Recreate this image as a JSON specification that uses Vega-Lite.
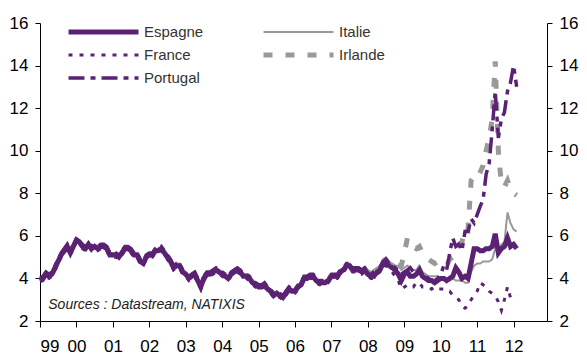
{
  "$schema": "https://vega.github.io/schema/vega-lite/v6.json",
  "autosize": "none",
  "width": 507,
  "height": 298,
  "padding": {"left": 40, "top": 23, "right": 40, "bottom": 42},
  "background": "white",
  "config": {
    "view": {"stroke": null},
    "font": "Liberation Sans",
    "axis": {"grid": false, "domainColor": "#000", "tickColor": "#000", "labelColor": "#000", "labelFont": "Liberation Sans", "labelFontSize": 17, "domainWidth": 1, "tickWidth": 1}
  },
  "datasets": {
    "rates": [
      {"d": "1999-01-01", "es": 3.9, "fr": 3.85, "pt": 4.0, "it": 4.0, "ie": 3.9},
      {"d": "1999-02-01", "es": 4.0, "fr": 3.9, "pt": 4.1, "it": 4.1, "ie": 4.0},
      {"d": "1999-03-01", "es": 4.2, "fr": 4.1, "pt": 4.3, "it": 4.3, "ie": 4.2},
      {"d": "1999-04-01", "es": 4.1, "fr": 4.0, "pt": 4.2, "it": 4.2, "ie": 4.0},
      {"d": "1999-05-01", "es": 4.2, "fr": 4.1, "pt": 4.3, "it": 4.3, "ie": 4.2},
      {"d": "1999-06-01", "es": 4.5, "fr": 4.4, "pt": 4.6, "it": 4.6, "ie": 4.5},
      {"d": "1999-07-01", "es": 4.8, "fr": 4.7, "pt": 4.9, "it": 4.9, "ie": 4.8},
      {"d": "1999-08-01", "es": 5.1, "fr": 5.0, "pt": 5.2, "it": 5.2, "ie": 5.1},
      {"d": "1999-09-01", "es": 5.3, "fr": 5.2, "pt": 5.4, "it": 5.4, "ie": 5.3},
      {"d": "1999-10-01", "es": 5.5, "fr": 5.4, "pt": 5.6, "it": 5.6, "ie": 5.5},
      {"d": "1999-11-01", "es": 5.2, "fr": 5.1, "pt": 5.3, "it": 5.3, "ie": 5.2},
      {"d": "1999-12-01", "es": 5.5, "fr": 5.4, "pt": 5.6, "it": 5.6, "ie": 5.5},
      {"d": "2000-01-01", "es": 5.8, "fr": 5.7, "pt": 5.85, "it": 5.9, "ie": 5.8},
      {"d": "2000-02-01", "es": 5.7, "fr": 5.6, "pt": 5.75, "it": 5.8, "ie": 5.7},
      {"d": "2000-03-01", "es": 5.5, "fr": 5.4, "pt": 5.6, "it": 5.6, "ie": 5.5},
      {"d": "2000-04-01", "es": 5.4, "fr": 5.3, "pt": 5.5, "it": 5.5, "ie": 5.4},
      {"d": "2000-05-01", "es": 5.6, "fr": 5.5, "pt": 5.7, "it": 5.7, "ie": 5.6},
      {"d": "2000-06-01", "es": 5.4, "fr": 5.3, "pt": 5.5, "it": 5.5, "ie": 5.4},
      {"d": "2000-07-01", "es": 5.5, "fr": 5.4, "pt": 5.6, "it": 5.6, "ie": 5.5},
      {"d": "2000-08-01", "es": 5.4, "fr": 5.3, "pt": 5.5, "it": 5.5, "ie": 5.4},
      {"d": "2000-09-01", "es": 5.5, "fr": 5.4, "pt": 5.6, "it": 5.6, "ie": 5.5},
      {"d": "2000-10-01", "es": 5.5, "fr": 5.4, "pt": 5.6, "it": 5.6, "ie": 5.5},
      {"d": "2000-11-01", "es": 5.4, "fr": 5.3, "pt": 5.5, "it": 5.5, "ie": 5.4},
      {"d": "2000-12-01", "es": 5.1, "fr": 5.0, "pt": 5.2, "it": 5.2, "ie": 5.1},
      {"d": "2001-01-01", "es": 5.1, "fr": 5.0, "pt": 5.2, "it": 5.2, "ie": 5.1},
      {"d": "2001-02-01", "es": 5.1, "fr": 5.0, "pt": 5.2, "it": 5.2, "ie": 5.1},
      {"d": "2001-03-01", "es": 5.0, "fr": 4.9, "pt": 5.1, "it": 5.1, "ie": 5.0},
      {"d": "2001-04-01", "es": 5.2, "fr": 5.1, "pt": 5.3, "it": 5.3, "ie": 5.2},
      {"d": "2001-05-01", "es": 5.4, "fr": 5.3, "pt": 5.5, "it": 5.5, "ie": 5.4},
      {"d": "2001-06-01", "es": 5.4, "fr": 5.3, "pt": 5.5, "it": 5.5, "ie": 5.4},
      {"d": "2001-07-01", "es": 5.3, "fr": 5.2, "pt": 5.4, "it": 5.4, "ie": 5.3},
      {"d": "2001-08-01", "es": 5.1, "fr": 5.0, "pt": 5.2, "it": 5.2, "ie": 5.1},
      {"d": "2001-09-01", "es": 5.1, "fr": 5.0, "pt": 5.2, "it": 5.2, "ie": 5.1},
      {"d": "2001-10-01", "es": 4.8, "fr": 4.7, "pt": 4.9, "it": 4.9, "ie": 4.8},
      {"d": "2001-11-01", "es": 4.7, "fr": 4.6, "pt": 4.8, "it": 4.8, "ie": 4.7},
      {"d": "2001-12-01", "es": 5.0, "fr": 4.9, "pt": 5.1, "it": 5.1, "ie": 5.0},
      {"d": "2002-01-01", "es": 5.1, "fr": 5.0, "pt": 5.2, "it": 5.2, "ie": 5.1},
      {"d": "2002-02-01", "es": 5.1, "fr": 5.0, "pt": 5.2, "it": 5.2, "ie": 5.1},
      {"d": "2002-03-01", "es": 5.3, "fr": 5.2, "pt": 5.4, "it": 5.4, "ie": 5.3},
      {"d": "2002-04-01", "es": 5.3, "fr": 5.2, "pt": 5.4, "it": 5.4, "ie": 5.3},
      {"d": "2002-05-01", "es": 5.4, "fr": 5.3, "pt": 5.5, "it": 5.5, "ie": 5.4},
      {"d": "2002-06-01", "es": 5.2, "fr": 5.1, "pt": 5.3, "it": 5.3, "ie": 5.2},
      {"d": "2002-07-01", "es": 5.0, "fr": 4.9, "pt": 5.1, "it": 5.1, "ie": 5.0},
      {"d": "2002-08-01", "es": 4.8, "fr": 4.7, "pt": 4.9, "it": 4.9, "ie": 4.8},
      {"d": "2002-09-01", "es": 4.5, "fr": 4.4, "pt": 4.6, "it": 4.6, "ie": 4.5},
      {"d": "2002-10-01", "es": 4.6, "fr": 4.5, "pt": 4.7, "it": 4.7, "ie": 4.6},
      {"d": "2002-11-01", "es": 4.6, "fr": 4.5, "pt": 4.7, "it": 4.7, "ie": 4.6},
      {"d": "2002-12-01", "es": 4.3, "fr": 4.2, "pt": 4.4, "it": 4.4, "ie": 4.3},
      {"d": "2003-01-01", "es": 4.2, "fr": 4.1, "pt": 4.3, "it": 4.3, "ie": 4.2},
      {"d": "2003-02-01", "es": 4.0, "fr": 3.9, "pt": 4.1, "it": 4.1, "ie": 4.0},
      {"d": "2003-03-01", "es": 4.1, "fr": 4.0, "pt": 4.2, "it": 4.2, "ie": 4.1},
      {"d": "2003-04-01", "es": 4.2, "fr": 4.1, "pt": 4.3, "it": 4.3, "ie": 4.2},
      {"d": "2003-05-01", "es": 3.9, "fr": 3.8, "pt": 4.0, "it": 4.0, "ie": 3.9},
      {"d": "2003-06-01", "es": 3.6, "fr": 3.5, "pt": 3.7, "it": 3.7, "ie": 3.6},
      {"d": "2003-07-01", "es": 4.0, "fr": 3.9, "pt": 4.1, "it": 4.1, "ie": 4.0},
      {"d": "2003-08-01", "es": 4.2, "fr": 4.1, "pt": 4.3, "it": 4.3, "ie": 4.2},
      {"d": "2003-09-01", "es": 4.2, "fr": 4.1, "pt": 4.3, "it": 4.3, "ie": 4.2},
      {"d": "2003-10-01", "es": 4.3, "fr": 4.2, "pt": 4.4, "it": 4.4, "ie": 4.3},
      {"d": "2003-11-01", "es": 4.4, "fr": 4.3, "pt": 4.5, "it": 4.5, "ie": 4.4},
      {"d": "2003-12-01", "es": 4.3, "fr": 4.2, "pt": 4.4, "it": 4.4, "ie": 4.3},
      {"d": "2004-01-01", "es": 4.2, "fr": 4.1, "pt": 4.3, "it": 4.3, "ie": 4.2},
      {"d": "2004-02-01", "es": 4.1, "fr": 4.0, "pt": 4.2, "it": 4.2, "ie": 4.1},
      {"d": "2004-03-01", "es": 4.0, "fr": 3.9, "pt": 4.1, "it": 4.1, "ie": 4.0},
      {"d": "2004-04-01", "es": 4.2, "fr": 4.1, "pt": 4.3, "it": 4.3, "ie": 4.2},
      {"d": "2004-05-01", "es": 4.3, "fr": 4.2, "pt": 4.4, "it": 4.4, "ie": 4.3},
      {"d": "2004-06-01", "es": 4.4, "fr": 4.3, "pt": 4.5, "it": 4.5, "ie": 4.4},
      {"d": "2004-07-01", "es": 4.3, "fr": 4.2, "pt": 4.4, "it": 4.4, "ie": 4.3},
      {"d": "2004-08-01", "es": 4.1, "fr": 4.0, "pt": 4.2, "it": 4.2, "ie": 4.1},
      {"d": "2004-09-01", "es": 4.1, "fr": 4.0, "pt": 4.2, "it": 4.2, "ie": 4.1},
      {"d": "2004-10-01", "es": 4.0, "fr": 3.9, "pt": 4.1, "it": 4.1, "ie": 4.0},
      {"d": "2004-11-01", "es": 3.8, "fr": 3.7, "pt": 3.9, "it": 3.9, "ie": 3.8},
      {"d": "2004-12-01", "es": 3.7, "fr": 3.6, "pt": 3.8, "it": 3.8, "ie": 3.7},
      {"d": "2005-01-01", "es": 3.6, "fr": 3.5, "pt": 3.7, "it": 3.7, "ie": 3.6},
      {"d": "2005-02-01", "es": 3.6, "fr": 3.5, "pt": 3.7, "it": 3.7, "ie": 3.6},
      {"d": "2005-03-01", "es": 3.7, "fr": 3.6, "pt": 3.8, "it": 3.8, "ie": 3.7},
      {"d": "2005-04-01", "es": 3.5, "fr": 3.4, "pt": 3.6, "it": 3.6, "ie": 3.5},
      {"d": "2005-05-01", "es": 3.4, "fr": 3.3, "pt": 3.5, "it": 3.5, "ie": 3.4},
      {"d": "2005-06-01", "es": 3.2, "fr": 3.1, "pt": 3.3, "it": 3.3, "ie": 3.2},
      {"d": "2005-07-01", "es": 3.3, "fr": 3.2, "pt": 3.4, "it": 3.4, "ie": 3.3},
      {"d": "2005-08-01", "es": 3.2, "fr": 3.1, "pt": 3.3, "it": 3.3, "ie": 3.2},
      {"d": "2005-09-01", "es": 3.1, "fr": 3.0, "pt": 3.2, "it": 3.2, "ie": 3.1},
      {"d": "2005-10-01", "es": 3.3, "fr": 3.2, "pt": 3.4, "it": 3.4, "ie": 3.3},
      {"d": "2005-11-01", "es": 3.5, "fr": 3.4, "pt": 3.6, "it": 3.6, "ie": 3.5},
      {"d": "2005-12-01", "es": 3.4, "fr": 3.3, "pt": 3.5, "it": 3.5, "ie": 3.4},
      {"d": "2006-01-01", "es": 3.4, "fr": 3.3, "pt": 3.5, "it": 3.5, "ie": 3.4},
      {"d": "2006-02-01", "es": 3.6, "fr": 3.5, "pt": 3.7, "it": 3.7, "ie": 3.6},
      {"d": "2006-03-01", "es": 3.7, "fr": 3.6, "pt": 3.8, "it": 3.8, "ie": 3.7},
      {"d": "2006-04-01", "es": 4.0, "fr": 3.9, "pt": 4.1, "it": 4.1, "ie": 4.0},
      {"d": "2006-05-01", "es": 4.0, "fr": 3.9, "pt": 4.1, "it": 4.1, "ie": 4.0},
      {"d": "2006-06-01", "es": 4.1, "fr": 4.0, "pt": 4.2, "it": 4.2, "ie": 4.1},
      {"d": "2006-07-01", "es": 4.1, "fr": 4.0, "pt": 4.2, "it": 4.2, "ie": 4.1},
      {"d": "2006-08-01", "es": 3.9, "fr": 3.8, "pt": 4.0, "it": 4.0, "ie": 3.9},
      {"d": "2006-09-01", "es": 3.8, "fr": 3.7, "pt": 3.9, "it": 3.9, "ie": 3.8},
      {"d": "2006-10-01", "es": 3.8, "fr": 3.7, "pt": 3.9, "it": 3.9, "ie": 3.8},
      {"d": "2006-11-01", "es": 3.8, "fr": 3.7, "pt": 3.9, "it": 3.9, "ie": 3.8},
      {"d": "2006-12-01", "es": 3.9, "fr": 3.8, "pt": 4.0, "it": 4.0, "ie": 3.9},
      {"d": "2007-01-01", "es": 4.1, "fr": 4.0, "pt": 4.2, "it": 4.2, "ie": 4.1},
      {"d": "2007-02-01", "es": 4.1, "fr": 4.0, "pt": 4.2, "it": 4.2, "ie": 4.1},
      {"d": "2007-03-01", "es": 4.1, "fr": 4.0, "pt": 4.2, "it": 4.2, "ie": 4.1},
      {"d": "2007-04-01", "es": 4.3, "fr": 4.2, "pt": 4.4, "it": 4.4, "ie": 4.3},
      {"d": "2007-05-01", "es": 4.4, "fr": 4.3, "pt": 4.5, "it": 4.5, "ie": 4.4},
      {"d": "2007-06-01", "es": 4.6, "fr": 4.5, "pt": 4.7, "it": 4.7, "ie": 4.6},
      {"d": "2007-07-01", "es": 4.6, "fr": 4.5, "pt": 4.7, "it": 4.7, "ie": 4.6},
      {"d": "2007-08-01", "es": 4.4, "fr": 4.3, "pt": 4.5, "it": 4.5, "ie": 4.4},
      {"d": "2007-09-01", "es": 4.4, "fr": 4.3, "pt": 4.5, "it": 4.5, "ie": 4.4},
      {"d": "2007-10-01", "es": 4.4, "fr": 4.3, "pt": 4.5, "it": 4.5, "ie": 4.4},
      {"d": "2007-11-01", "es": 4.3, "fr": 4.2, "pt": 4.4, "it": 4.4, "ie": 4.3},
      {"d": "2007-12-01", "es": 4.4, "fr": 4.3, "pt": 4.5, "it": 4.5, "ie": 4.4},
      {"d": "2008-01-01", "es": 4.2, "fr": 4.1, "pt": 4.3, "it": 4.4, "ie": 4.2},
      {"d": "2008-02-01", "es": 4.1, "fr": 4.0, "pt": 4.2, "it": 4.3, "ie": 4.1},
      {"d": "2008-03-01", "es": 4.1, "fr": 4.0, "pt": 4.3, "it": 4.4, "ie": 4.1},
      {"d": "2008-04-01", "es": 4.3, "fr": 4.2, "pt": 4.4, "it": 4.5, "ie": 4.3},
      {"d": "2008-05-01", "es": 4.4, "fr": 4.3, "pt": 4.5, "it": 4.6, "ie": 4.4},
      {"d": "2008-06-01", "es": 4.7, "fr": 4.6, "pt": 4.8, "it": 4.9, "ie": 4.7},
      {"d": "2008-07-01", "es": 4.8, "fr": 4.6, "pt": 4.9, "it": 5.0, "ie": 4.8},
      {"d": "2008-08-01", "es": 4.6, "fr": 4.4, "pt": 4.7, "it": 4.8, "ie": 4.6},
      {"d": "2008-09-01", "es": 4.5, "fr": 4.3, "pt": 4.6, "it": 4.7, "ie": 4.5},
      {"d": "2008-10-01", "es": 4.4, "fr": 4.1, "pt": 4.5, "it": 4.6, "ie": 4.5},
      {"d": "2008-11-01", "es": 4.2, "fr": 3.9, "pt": 4.4, "it": 4.6, "ie": 4.6},
      {"d": "2008-12-01", "es": 3.9, "fr": 3.5, "pt": 4.2, "it": 4.4, "ie": 4.6},
      {"d": "2009-01-01", "es": 4.2, "fr": 3.6, "pt": 4.3, "it": 4.5, "ie": 5.2},
      {"d": "2009-02-01", "es": 4.3, "fr": 3.7, "pt": 4.4, "it": 4.6, "ie": 5.9},
      {"d": "2009-03-01", "es": 4.1, "fr": 3.6, "pt": 4.5, "it": 4.5, "ie": 5.7},
      {"d": "2009-04-01", "es": 4.1, "fr": 3.6, "pt": 4.3, "it": 4.4, "ie": 5.5},
      {"d": "2009-05-01", "es": 4.2, "fr": 3.8, "pt": 4.4, "it": 4.4, "ie": 5.4},
      {"d": "2009-06-01", "es": 4.4, "fr": 3.8, "pt": 4.3, "it": 4.6, "ie": 5.5},
      {"d": "2009-07-01", "es": 4.1, "fr": 3.6, "pt": 4.1, "it": 4.3, "ie": 5.2},
      {"d": "2009-08-01", "es": 4.0, "fr": 3.6, "pt": 4.1, "it": 4.2, "ie": 5.1},
      {"d": "2009-09-01", "es": 3.9, "fr": 3.6, "pt": 4.0, "it": 4.1, "ie": 4.9},
      {"d": "2009-10-01", "es": 3.9, "fr": 3.5, "pt": 3.9, "it": 4.1, "ie": 4.8},
      {"d": "2009-11-01", "es": 3.8, "fr": 3.6, "pt": 3.9, "it": 4.1, "ie": 4.7},
      {"d": "2009-12-01", "es": 3.9, "fr": 3.5, "pt": 4.0, "it": 4.1, "ie": 4.8},
      {"d": "2010-01-01", "es": 4.0, "fr": 3.5, "pt": 4.2, "it": 4.0, "ie": 4.8},
      {"d": "2010-02-01", "es": 4.0, "fr": 3.5, "pt": 4.6, "it": 4.0, "ie": 4.7},
      {"d": "2010-03-01", "es": 3.9, "fr": 3.4, "pt": 4.4, "it": 3.9, "ie": 4.6},
      {"d": "2010-04-01", "es": 4.0, "fr": 3.4, "pt": 5.2, "it": 3.9, "ie": 4.9},
      {"d": "2010-05-01", "es": 4.1, "fr": 3.2, "pt": 5.9, "it": 4.0, "ie": 5.0},
      {"d": "2010-06-01", "es": 4.5, "fr": 3.1, "pt": 5.5, "it": 3.9, "ie": 5.3},
      {"d": "2010-07-01", "es": 4.3, "fr": 3.0, "pt": 5.6, "it": 3.9, "ie": 5.6},
      {"d": "2010-08-01", "es": 4.0, "fr": 2.7, "pt": 5.3, "it": 3.9, "ie": 5.7},
      {"d": "2010-09-01", "es": 4.1, "fr": 2.6, "pt": 6.2, "it": 3.8, "ie": 6.4},
      {"d": "2010-10-01", "es": 4.0, "fr": 2.7, "pt": 6.2, "it": 3.8, "ie": 6.3},
      {"d": "2010-11-01", "es": 4.7, "fr": 3.0, "pt": 6.8, "it": 4.3, "ie": 8.6},
      {"d": "2010-12-01", "es": 5.4, "fr": 3.2, "pt": 6.6, "it": 4.6, "ie": 8.8},
      {"d": "2011-01-01", "es": 5.4, "fr": 3.4, "pt": 7.0, "it": 4.7, "ie": 8.7},
      {"d": "2011-02-01", "es": 5.3, "fr": 3.8, "pt": 7.4, "it": 4.7, "ie": 9.0},
      {"d": "2011-03-01", "es": 5.3, "fr": 3.7, "pt": 7.7, "it": 4.8, "ie": 9.3},
      {"d": "2011-04-01", "es": 5.4, "fr": 3.6, "pt": 8.9, "it": 4.8, "ie": 10.0},
      {"d": "2011-05-01", "es": 5.4, "fr": 3.4, "pt": 9.4, "it": 4.8, "ie": 10.6},
      {"d": "2011-06-01", "es": 5.5, "fr": 3.3, "pt": 11.0, "it": 4.9, "ie": 11.5},
      {"d": "2011-07-01", "es": 6.1, "fr": 3.2, "pt": 12.8, "it": 5.4, "ie": 14.2},
      {"d": "2011-08-01", "es": 5.2, "fr": 2.9, "pt": 10.6, "it": 5.3, "ie": 10.0},
      {"d": "2011-09-01", "es": 5.4, "fr": 2.5, "pt": 11.5, "it": 5.6, "ie": 8.4},
      {"d": "2011-10-01", "es": 5.5, "fr": 3.0, "pt": 11.8, "it": 5.7, "ie": 8.3},
      {"d": "2011-11-01", "es": 5.9, "fr": 3.6, "pt": 12.8, "it": 7.1, "ie": 8.6},
      {"d": "2011-12-01", "es": 5.5, "fr": 3.1, "pt": 13.2, "it": 6.6, "ie": 8.2},
      {"d": "2012-01-01", "es": 5.6, "fr": 3.1, "pt": 14.0, "it": 6.3, "ie": 8.0},
      {"d": "2012-02-01", "es": 5.4, "fr": 3.2, "pt": 13.0, "it": 6.2, "ie": 7.9}
    ],
    "names": [
      {"code": "es", "series": "Espagne"},
      {"code": "fr", "series": "France"},
      {"code": "pt", "series": "Portugal"},
      {"code": "it", "series": "Italie"},
      {"code": "ie", "series": "Irlande"}
    ]
  },
  "layer": [
    {
      "data": {"name": "rates"},
      "transform": [
        {"fold": ["it", "ie", "es", "fr", "pt"], "as": ["code", "value"]},
        {"lookup": "code", "from": {"data": {"name": "names"}, "key": "code", "fields": ["series"]}}
      ],
      "encoding": {
        "x": {"field": "d", "type": "temporal",
          "scale": {"domain": ["1999-01-01", "2012-12-01"]},
          "axis": {"format": "%y", "title": null, "tickCount": {"interval": "year", "step": 1}, "tickSize": 6, "labelPadding": 11, "labelFontSize": 17}},
        "color": {"field": "series", "type": "nominal",
          "scale": {"domain": ["Espagne", "France", "Portugal", "Italie", "Irlande"], "range": ["#5b2273", "#5b2273", "#5b2273", "#999999", "#999999"]},
          "legend": {"title": null, "orient": "none", "legendX": 26, "legendY": 1, "columns": 2, "symbolType": "stroke", "symbolSize": 4900, "clipHeight": 16, "rowPadding": 7, "columnPadding": 57, "labelFont": "Liberation Sans", "labelFontSize": 15, "labelColor": "#333333", "labelOffset": 3}},
        "strokeDash": {"field": "series", "type": "nominal",
          "scale": {"domain": ["Espagne", "France", "Portugal", "Italie", "Irlande"], "range": [[1, 0], [4, 7], [16, 6, 5, 6], [1, 0], [9, 13]]}},
        "strokeWidth": {"field": "series", "type": "nominal",
          "scale": {"type": "ordinal", "domain": ["Espagne", "France", "Portugal", "Italie", "Irlande"], "range": [5, 3, 3.5, 2, 5]}}
      },
      "layer": [
        {
          "transform": [{"filter": "datum.code == 'it' || datum.code == 'ie'"}],
          "mark": {"type": "line", "strokeCap": "butt", "strokeJoin": "miter"},
          "encoding": {
            "y": {"field": "value", "type": "quantitative", "scale": {"domain": [2, 16], "nice": false, "zero": false},
              "axis": {"orient": "left", "values": [2, 4, 6, 8, 10, 12, 14, 16], "title": null, "tickSize": 5, "labelPadding": 7}}
          }
        },
        {
          "transform": [{"filter": "datum.code == 'es' || datum.code == 'fr' || datum.code == 'pt'"}],
          "mark": {"type": "line", "strokeCap": "butt", "strokeJoin": "miter"},
          "encoding": {
            "y": {"field": "value", "type": "quantitative",
              "axis": {"orient": "right", "values": [2, 4, 6, 8, 10, 12, 14, 16], "title": null, "tickSize": 5, "labelPadding": 7}}
          }
        }
      ],
      "resolve": {"axis": {"y": "independent"}}
    },
    {
      "data": {"values": [{"label": "Sources : Datastream, NATIXIS"}]},
      "mark": {"type": "text", "align": "left", "baseline": "middle", "font": "Liberation Sans", "fontStyle": "italic", "fontSize": 14, "color": "#222222"},
      "encoding": {
        "x": {"datum": {"year": 1999, "month": 3, "date": 25}, "type": "temporal"},
        "y": {"datum": 2.75, "type": "quantitative", "axis": null},
        "text": {"field": "label"}
      }
    }
  ],
  "resolve": {"axis": {"y": "independent"}}
}
